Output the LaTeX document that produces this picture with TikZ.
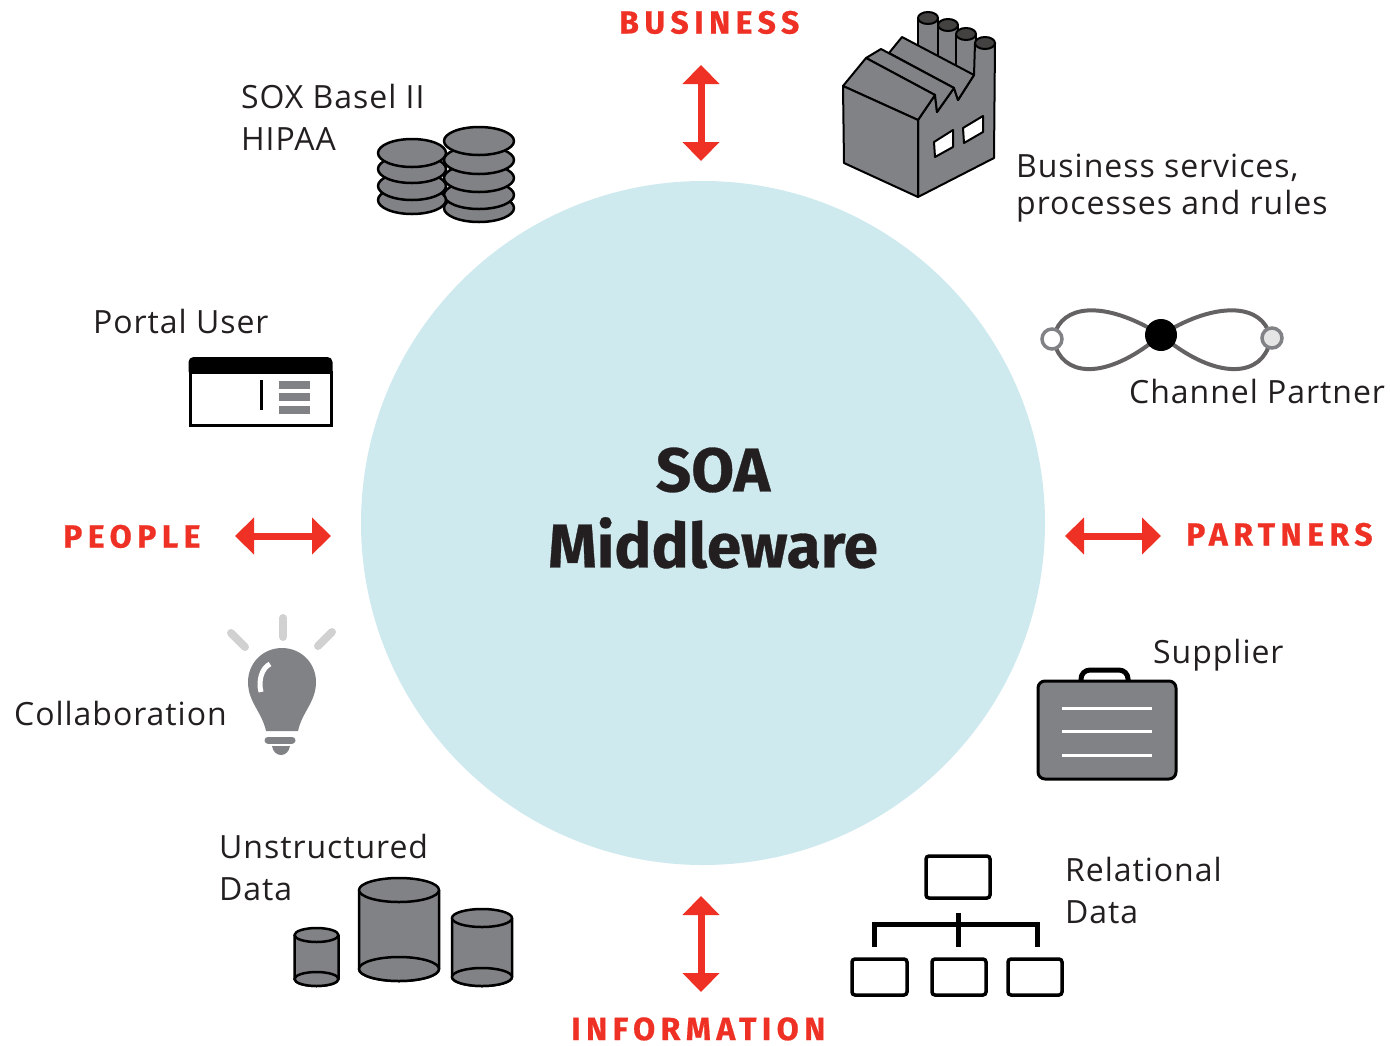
\documentclass[tikz,border=0pt]{standalone}
\usepackage{fontspec}
\setmainfont[LetterSpace=3]{Open Sans}
\newfontfamily\headfont[LetterSpace=17,BoldFeatures={FakeBold=0.6}]{Fira Sans}
\newfontfamily\titlefont[BoldFeatures={FakeBold=0.5}]{Fira Sans}
\usepackage{tikz}
\usetikzlibrary{arrows.meta, positioning, calc}
\definecolor{soablue}{HTML}{CFEAEF}
\definecolor{soared}{HTML}{EE3124}
\definecolor{soagray}{HTML}{808285}
\definecolor{soadark}{HTML}{231F20}

\begin{document}
\begin{tikzpicture}[
    x=1pt, y=-1pt,
    label/.style={font=\fontsize{32}{42}\selectfont, text=soadark, align=left, inner sep=0pt, anchor=west},
    head/.style={font=\headfont\bfseries\fontsize{32}{32}\selectfont, text=soared, inner sep=0pt, anchor=base west},
    arrowstyle/.style={{Triangle[length=19pt,width=36pt]}-{Triangle[length=19pt,width=36pt]}, line width=7pt, soared},
    icon/.style={draw=black, fill=soagray, line width=2.5pt, line join=round},
    box/.style={draw=black, line width=3.5pt, rounded corners=3pt, inner sep=0pt},
]
    \useasboundingbox (0,0) rectangle (1390,1045);

    % Middleware circle
    \node[circle, fill=soablue, minimum size=684pt, inner sep=0pt] (soa) at (703,523) {};
    \node[font=\titlefont\bfseries\fontsize{62}{76}\selectfont, text=soadark, align=center] (soatext) at (713,508) {SOA\\Middleware};

    % Side headings
    \node[head] (business) at (619,33.5) {BUSINESS};
    \node[head] (people) at (63,547.5) {PEOPLE};
    \node[head] (partners) at (1186,545.5) {PARTNERS};
    \node[head] (information) at (571,1040) {INFORMATION};

    % Double arrows
    \coordinate (busA) at (701,65);
    \coordinate (busB) at (701,161);
    \coordinate (peoA) at (235,536);
    \coordinate (peoB) at (331,536);
    \coordinate (parA) at (1065,536);
    \coordinate (parB) at (1161,536);
    \coordinate (infA) at (701,896);
    \coordinate (infB) at (701,992);
    \draw[arrowstyle] (busA) -- (busB);
    \draw[arrowstyle] (peoA) -- (peoB);
    \draw[arrowstyle] (parA) -- (parB);
    \draw[arrowstyle] (infA) -- (infB);

    % Labels
    \node[label] (sox) at (241,117) {SOX Basel II\\HIPAA};
    \node[label, font=\fontsize{32}{37}\selectfont] (services) at (1016,188) {Business services,\\processes and rules};
    \node[label] (portal) at (93,321) {Portal User};
    \node[label] (channel) at (1129,391) {Channel Partner};
    \node[label] (collab) at (14,713) {Collaboration};
    \node[label] (supplier) at (1153,655) {Supplier};
    \node[label] (unstructured) at (219,867) {Unstructured\\Data};
    \node[label] (relational) at (1065,890) {Relational\\Data};

    % Factory
    \begin{scope}[icon/.append style={line width=2pt}]
    \foreach \cx/\cy/\by in {928/18/60, 948/25/70, 966/34/80} {
        \draw[icon] (\cx-10,\cy) -- (\cx-10,\by) -- (\cx+10,\by) -- (\cx+10,\cy);
        \draw[icon, fill=soadark!85] (\cx,\cy) ellipse [x radius=10, y radius=6];
    }
    \draw[icon] (918,120) -- (935,95) -- (937,112) -- (954,88) -- (958,100) -- (974,75) -- (975,43) -- (995,43) -- (994,158) -- (918,197) -- cycle;
    \draw[icon, fill=soadark!85] (985,43) ellipse [x radius=10, y radius=6];
    \draw[icon] (889,53) -- (902,37) -- (974,75) -- (958,100) -- (954,88) -- cycle;
    \draw[icon] (866,58) -- (881,49) -- (954,88) -- (937,112) -- (935,95) -- cycle;
    \draw[icon] (843,86) -- (866,58) -- (935,95) -- (918,120) -- cycle;
    \draw[icon] (843,86) -- (918,120) -- (918,197) -- (844,163) -- cycle;
    \draw[icon, fill=white] (934,142) -- (953,130) -- (953,147) -- (935,157) -- cycle;
    \draw[icon, fill=white] (963,128) -- (983,116) -- (983,132) -- (964,143) -- cycle;
    \end{scope}

    % Coin stacks
    \foreach \cy in {208,195,178,160,141}
        \draw[icon] (479,\cy) ellipse [x radius=35, y radius=14];
    \foreach \cy in {200,186,169,153}
        \draw[icon] (412,\cy) ellipse [x radius=34, y radius=14];

    % Portal window
    \draw[draw=black, line width=3pt, fill=white] (190,372) rectangle (331,425);
    \fill[black] (188.5,372) {[rounded corners=5pt] -- (188.5,357) -- (332.5,357)} -- (332.5,372) -- cycle;
    \draw[line width=3pt] (261,380) -- (261,410);
    \foreach \by in {381,393,406}
        \fill[soagray] (279,\by) rectangle (310,\by+7.5);

    % Channel loops
    \draw[draw=soadark!70, line width=4pt]
        (1056,330) .. controls (1068,303) and (1110,303) .. (1161,335)
        .. controls (1212,303) and (1256,303) .. (1268,330);
    \draw[draw=soadark!70, line width=4pt]
        (1056,348) .. controls (1068,378) and (1110,378) .. (1161,335)
        .. controls (1212,378) and (1256,378) .. (1268,348);
    \node[circle, fill=black, minimum size=32pt, inner sep=0pt] (hub) at (1161,335) {};
    \node[circle, draw=soagray, fill=white, line width=3.5pt, minimum size=20pt, inner sep=0pt] (endL) at (1052,339) {};
    \node[circle, draw=soagray, fill=black!10, line width=3.5pt, minimum size=20pt, inner sep=0pt] (endR) at (1272,338) {};

    % Light bulb
    \foreach \ax/\ay/\bx/\by in {283/618/283/637, 231/633/245/647, 332/632/318/646}
        \draw[black!18, line width=8pt, line cap=round] (\ax,\ay) -- (\bx,\by);
    \fill[soagray] (266,731) .. controls (262,712) and (248,702) .. (248,682)
        .. controls (248,663) and (263,648) .. (282,648)
        .. controls (301,648) and (316,663) .. (316,682)
        .. controls (316,702) and (302,712) .. (298,731) -- cycle;
    \draw[white, line width=5pt] (270,664) .. controls (262,668) and (258,680) .. (261,692);
    \draw[soagray, line width=7pt, line cap=round] (268,740) -- (292,740);
    \fill[soagray] (272,746) -- (290,746) .. controls (288,758) and (274,758) .. (272,746) -- cycle;

    % Briefcase
    \draw[draw=black, line width=5pt, rounded corners=9pt] (1081,683) -- (1081,670) -- (1128,670) -- (1128,683);
    \draw[icon, line width=3pt, rounded corners=7pt] (1038,681) rectangle (1176,779);
    \foreach \by in {708,731,755}
        \draw[white, line width=3pt] (1062,\by) -- (1152,\by);

    % Cylinders
    \foreach \cx/\rx/\ry/\ty/\by in {316.5/22/7/935/979, 399/40/12/890/969, 482/30/9/918/977} {
        \draw[icon] (\cx-\rx,\ty) -- (\cx-\rx,\by) arc [start angle=180, end angle=360, x radius=\rx, y radius=-\ry] -- (\cx+\rx,\ty);
        \draw[icon] (\cx,\ty) ellipse [x radius=\rx, y radius=\ry];
        \draw[icon] (\cx,\by) ellipse [x radius=\rx, y radius=\ry];
    }

    % Relational tree
    \node[box, minimum width=64pt, minimum height=42pt] (relTop) at (958,877) {};
    \node[box, minimum width=55pt, minimum height=36pt] (relA) at (879.5,977) {};
    \node[box, minimum width=54pt, minimum height=36pt] (relB) at (959,977) {};
    \node[box, minimum width=54pt, minimum height=36pt] (relC) at (1035,977) {};
    \coordinate (treeA) at (874,947);
    \coordinate (treeB) at (958,947);
    \coordinate (treeC) at (1037,947);
    \coordinate (treeT) at (958,913);
    \draw[line width=5pt] (treeA) |- (treeC |- 0,924) -- (treeC);
    \draw[line width=5pt] (treeT) -- (treeB);
\end{tikzpicture}
\end{document}
